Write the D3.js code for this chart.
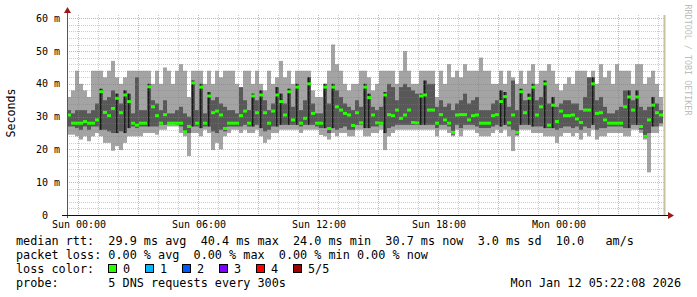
<!DOCTYPE html>
<html>
<head>
<meta charset="utf-8">
<script src="https://cdn.jsdelivr.net/npm/d3@7"></script>
<style>
  body { margin: 0; background: #fff; }
  text { font-family: "DejaVu Sans Mono", monospace; white-space: pre; }
</style>
</head>
<body>
<svg id="chart" width="697" height="297"></svg>
<script>
'use strict';

// one column of pings every 12 minutes, first one at Sat 23:27
var startTime = new Date(2026, 0, 10, 23, 27);
var endTime = new Date(2026, 0, 12, 5, 21);
var stepMinutes = 12;

// rtt in ms: slowest ping, 4th ping, median, 2nd ping, fastest ping
var maxRtt = [
  36, 38, 44, 40, 38, 36, 44, 44, 44, 42,
  44, 47, 42, 40, 42, 44, 44, 44, 44, 44,
  44, 40, 44, 40, 45, 44, 40, 44, 46, 44,
  36, 44, 44, 44, 40, 44, 40, 44, 42, 44,
  44, 44, 40, 38, 44, 44, 40, 44, 40, 38,
  44, 40, 42, 47, 42, 44, 40, 44, 44, 44,
  44, 38, 36, 36, 40, 44, 52, 46, 44, 40,
  38, 40, 40, 44, 44, 42, 38, 40, 44, 44,
  44, 44, 40, 44, 50, 44, 40, 40, 44, 44,
  44, 44, 36, 44, 40, 46, 42, 44, 42, 46,
  44, 44, 44, 48, 44, 44, 40, 40, 44, 40,
  44, 42, 40, 44, 40, 44, 46, 40, 44, 44,
  46, 44, 40, 38, 40, 42, 40, 44, 44, 44,
  42, 44, 40, 46, 42, 44, 40, 46, 44, 44,
  44, 40, 46, 46, 40, 42, 44, 40, 36
];
var upperRtt = [
  32, 31, 32, 32, 32, 31, 32, 34, 38.5, 35,
  36, 38, 37, 34, 38, 37, 31, 42, 32, 32,
  40, 35, 34, 32, 35, 31, 31, 32, 33, 31,
  30, 41, 32, 40, 31, 37.5, 35, 36, 34, 33,
  32, 32, 31, 39, 35, 32, 37, 35, 38, 35,
  32, 34, 39, 37, 34, 38.5, 33, 40, 32, 35,
  42, 34, 31, 31, 40, 34, 40, 38, 36, 34,
  33, 32, 35, 33, 40, 37, 33, 32, 33, 37.5,
  40, 39, 35, 39, 40, 39, 38, 37, 37, 41,
  40, 40, 33, 35, 33, 34, 32, 34, 35, 37,
  34, 35, 36, 32, 32, 32, 34, 35, 38, 37.5,
  33, 41, 32, 38.5, 35, 37, 40, 35, 36, 41,
  34, 36, 33, 34, 35, 35, 34, 34, 32, 36,
  42, 42, 35, 36, 33, 31, 31, 32, 33, 38,
  38, 35, 38, 33, 32, 33, 36, 34, 32
];
var medianRtt = [
  30.5, 28, 28, 28, 28.5, 28, 28, 29, 37.6, 31.3,
  30.3, 32.5, 35.6, 31.2, 36.6, 34.6, 28, 27.4, 28, 28,
  39.1, 33, 30.3, 28, 30.6, 28, 28, 28, 28, 25.4,
  27, 40.3, 28, 39, 28, 36.3, 31.2, 31.7, 30.5, 26.4,
  28, 28, 28, 30.3, 31.7, 28, 36.3, 31.2, 36.6, 31.2,
  28, 31.7, 36.6, 34.6, 30.5, 37.6, 29, 39, 28, 29.5,
  40, 31, 28, 28, 39, 26.4, 39, 33, 32, 31,
  30.5, 27.3, 31.2, 28.1, 39, 35.8, 30.5, 28.1, 28, 36.6,
  30.6, 30.3, 32, 29.5, 30.5, 32, 28.2, 28.1, 36.3, 36.6,
  32, 32, 28, 30.6, 29, 28, 25.2, 30.5, 30.6, 30.6,
  29, 30.3, 30.5, 28, 28, 28, 30.3, 30.6, 34.6, 36.1,
  28.1, 30.5, 25.2, 37.6, 31.2, 35.6, 39, 30.5, 33, 40,
  27.4, 33.5, 28.5, 31.7, 30.3, 30.3, 30.5, 29.3, 28.2, 32,
  32, 40, 31, 31.2, 29, 28, 28, 28, 28, 33,
  36, 32, 36, 27, 24, 29, 33.5, 31.2, 30.5
];
var lowerRtt = [
  27, 27, 26.5, 26, 27, 26, 27, 27, 26, 26,
  25.5, 25, 25, 25.5, 25, 26.5, 27, 26.5, 27, 27,
  27, 27, 27, 27.5, 27.5, 28, 28, 27.5, 27, 25,
  25, 27, 27, 26.5, 27, 27, 25.5, 25, 26, 25.5,
  27, 27, 27, 27, 27.5, 27, 27, 27.5, 26.5, 25.5,
  26, 27, 27, 27.5, 27.5, 27.5, 27.5, 27.5, 27, 27.5,
  27.5, 27.5, 27, 26.5, 26.5, 25, 26.5, 26, 26.5, 27,
  26, 26, 27.5, 27.5, 26.5, 26.5, 27, 27, 27.5, 25,
  26.5, 27, 27.5, 27.5, 27.5, 27.5, 27.5, 27.5, 27.5, 27.5,
  27.5, 27.5, 26.5, 27.5, 27.5, 27, 24.5, 27.5, 26.5, 27.5,
  27.5, 27.5, 27, 26.5, 26.5, 26.5, 27, 27.5, 27, 27.5,
  27, 26, 24.5, 27.5, 27.5, 27.5, 27, 27, 27, 26.5,
  26.5, 26.5, 26, 26.5, 27, 27, 26.5, 27, 26, 27,
  26.5, 27.5, 26, 26.5, 26.5, 27, 27, 27, 27, 26.5,
  26.5, 27.5, 27.5, 26, 23.5, 25, 27, 27, 28
];
var minRtt = [
  24.5, 24.5, 24, 23, 24, 22.5, 24, 25, 24, 22,
  22, 19.6, 21, 19.8, 22, 24, 24, 24, 24, 25,
  25, 25, 24.5, 26, 26, 27, 27, 27, 25, 24,
  18, 25, 25, 24, 26, 25, 19.8, 22, 20, 24,
  25, 26, 26, 25, 26, 25, 25, 26, 24, 22,
  23, 25, 25, 26, 26, 26, 26, 26, 25, 26,
  26, 26, 26, 24.4, 24, 23, 25, 24, 25, 25,
  24, 24, 26, 26, 24, 24, 25, 25, 26, 19.8,
  24, 25, 26, 26, 26, 26, 26, 26, 26, 26,
  26, 26, 24, 26, 26, 25, 24, 26, 24, 26,
  26, 26, 25, 24, 24, 24, 25, 26, 25, 26,
  24, 19.5, 24, 26, 26, 26, 25, 25, 25, 24,
  24, 24, 22, 24, 25, 25, 24, 25, 23, 25,
  24, 26, 23, 24, 24, 25, 25, 25, 25, 24,
  24, 26, 26, 25, 23, 13, 25, 25, 27
];

var yTicks = [0, 10, 20, 30, 40, 50, 60];
var lossLabels = ['0', '1', '2', '3', '4', '5/5'];
var lossColors = ['#26ff00', '#00b8ff', '#0059ff', '#7e00ff', '#ff0000', '#a00000'];
var legendLines = [
  'median rtt:  29.9 ms avg  40.4 ms max  24.0 ms min  30.7 ms now  3.0 ms sd  10.0   am/s',
  'packet loss: 0.00 % avg  0.00 % max  0.00 % min 0.00 % now',
  'loss color:',
  'probe:       5 DNS requests every 300s'
];
var stampText = 'Mon Jan 12 05:22:08 2026';

var svg = d3.select('#chart');
var plotL = 67, plotR = 665, plotT = 15, plotB = 215;

var x = d3.scaleTime().domain([startTime, endTime]).range([plotL, plotR]);
var y = d3.scaleLinear().domain([0, 61]).range([plotB, plotT]);

var rows = medianRtt.map(function(m, i) {
  return {
    t: d3.timeMinute.offset(startTime, stepMinutes * i),
    max: maxRtt[i], hi: upperRtt[i], med: m, lo: lowerRtt[i], min: minRtt[i]
  };
});
var colW = x(d3.timeMinute.offset(startTime, stepMinutes)) - x(startTime);

svg.append('rect').attr('width', 697).attr('height', 297).attr('fill', '#fff');

// smoke: full spread light, inner pings dark
var plot = svg.append('g');
plot.selectAll('rect.spread').data(rows).enter().append('rect')
  .attr('x', function(d) { return x(d.t); })
  .attr('width', colW)
  .attr('y', function(d) { return y(d.max); })
  .attr('height', function(d) { return y(d.min) - y(d.max); })
  .attr('fill', '#a4a4a4');
plot.selectAll('rect.inner').data(rows).enter().append('rect')
  .attr('x', function(d) { return x(d.t); })
  .attr('width', colW)
  .attr('y', function(d) { return y(d.hi); })
  .attr('height', function(d) { return y(d.lo) - y(d.hi); })
  .attr('fill', '#585858');
plot.selectAll('rect.core').data(rows.filter(function(d) { return d.med > 33; })).enter().append('rect')
  .attr('x', function(d) { return x(d.t) + 1; })
  .attr('width', 1.5)
  .attr('y', function(d) { return y(d.hi); })
  .attr('height', function(d) { return y(d.lo) - y(d.hi); })
  .attr('fill', '#1c1c1c');
// median marks, coloured by loss (always 0 here)
plot.selectAll('rect.median').data(rows).enter().append('rect')
  .attr('x', function(d) { return x(d.t); })
  .attr('width', colW)
  .attr('y', function(d) { return y(d.med) - 1.5; })
  .attr('height', 3)
  .attr('fill', lossColors[0]);

// grid on top, dotted
var grid = svg.append('g').attr('shape-rendering', 'crispEdges');
var yMinor = d3.range(2, 61, 2).filter(function(v) { return v % 10 !== 0; });
grid.selectAll('line.hmin').data(yMinor).enter().append('line')
  .attr('x1', plotL).attr('x2', plotR)
  .attr('y1', function(d) { return Math.round(y(d)) + 0.5; })
  .attr('y2', function(d) { return Math.round(y(d)) + 0.5; })
  .attr('stroke', 'rgba(128,128,128,0.4)').attr('stroke-dasharray', '1,1');
var hours = d3.timeHour.range(startTime, endTime);
grid.selectAll('line.vmin').data(hours.filter(function(h) { return h.getHours() % 3 !== 0; })).enter().append('line')
  .attr('x1', function(d) { return Math.round(x(d)) + 0.5; })
  .attr('x2', function(d) { return Math.round(x(d)) + 0.5; })
  .attr('y1', plotT).attr('y2', plotB)
  .attr('stroke', 'rgba(128,128,128,0.4)').attr('stroke-dasharray', '1,1');
grid.selectAll('line.hmaj').data(yTicks.slice(1)).enter().append('line')
  .attr('x1', plotL).attr('x2', plotR)
  .attr('y1', function(d) { return Math.round(y(d)) + 0.5; })
  .attr('y2', function(d) { return Math.round(y(d)) + 0.5; })
  .attr('stroke', 'rgba(230,90,90,0.55)').attr('stroke-dasharray', '1,1');
grid.selectAll('line.vmaj').data(hours.filter(function(h) { return h.getHours() % 3 === 0; })).enter().append('line')
  .attr('x1', function(d) { return Math.round(x(d)) + 0.5; })
  .attr('x2', function(d) { return Math.round(x(d)) + 0.5; })
  .attr('y1', plotT).attr('y2', plotB)
  .attr('stroke', 'rgba(230,90,90,0.55)').attr('stroke-dasharray', '1,1');

// last update marker
svg.append('rect').attr('x', 663.5).attr('y', plotT).attr('width', 2).attr('height', plotB - plotT)
  .attr('fill', '#c6c1a2');

// axes with arrows
svg.append('line').attr('x1', plotL + 0.5).attr('x2', plotL + 0.5).attr('y1', plotB + 3).attr('y2', 11)
  .attr('stroke', '#555');
svg.append('line').attr('x1', 62).attr('x2', 670).attr('y1', plotB + 0.5).attr('y2', plotB + 0.5)
  .attr('stroke', '#111');
svg.append('path').attr('d', 'M64,13 L67.5,7 L71,13 Z').attr('fill', '#9b1a1a');
svg.append('path').attr('d', 'M668,212 L674,215.5 L668,219 Z').attr('fill', '#9b1a1a');

// y labels: number then unit
var yl = svg.append('g').attr('font-size', '10px').attr('fill', '#000');
yl.selectAll('text.num').data(yTicks).enter().append('text')
  .attr('x', 48).attr('y', function(d) { return y(d) + 3.5; })
  .attr('text-anchor', 'end').text(function(d) { return d; });
yl.selectAll('text.unit').data(yTicks.slice(1)).enter().append('text')
  .attr('x', 54).attr('y', function(d) { return y(d) + 3.5; })
  .text('m');

// x labels every 6 hours
var xl = svg.append('g').attr('font-size', '10px').attr('fill', '#000');
xl.selectAll('text').data(x.ticks(d3.timeHour.every(6))).enter().append('text')
  .attr('x', function(d) { return x(d) + 1; }).attr('y', 228)
  .attr('text-anchor', 'middle').text(d3.timeFormat('%a %H:%M'));

svg.append('text').attr('transform', 'translate(15,113) rotate(-90)')
  .attr('text-anchor', 'middle').attr('font-size', '11.6px').text('Seconds');

svg.append('text').attr('transform', 'translate(685,60) rotate(90)')
  .attr('text-anchor', 'middle').attr('font-size', '8.4px').attr('fill', '#bdbdbd')
  .text('RRDTOOL / TOBI OETIKER');

// legend
var lg = svg.append('g').attr('font-size', '11.8px').attr('fill', '#000');
lg.selectAll('text.line').data(legendLines).enter().append('text')
  .attr('x', 16).attr('y', function(d, i) { return 245 + i * 14; })
  .attr('xml:space', 'preserve').text(function(d) { return d; });
lg.selectAll('rect.sw').data(lossColors).enter().append('rect')
  .attr('x', function(d, i) { return 108.5 + i * 37; }).attr('y', 264.5)
  .attr('width', 8).attr('height', 8)
  .attr('fill', function(d) { return d; }).attr('stroke', '#000');
lg.selectAll('text.sw').data(lossLabels).enter().append('text')
  .attr('x', function(d, i) { return 123 + i * 37; }).attr('y', 273)
  .text(function(d) { return d; });
lg.append('text').attr('x', 681).attr('y', 287).attr('text-anchor', 'end').text(stampText);
</script>
</body>
</html>
